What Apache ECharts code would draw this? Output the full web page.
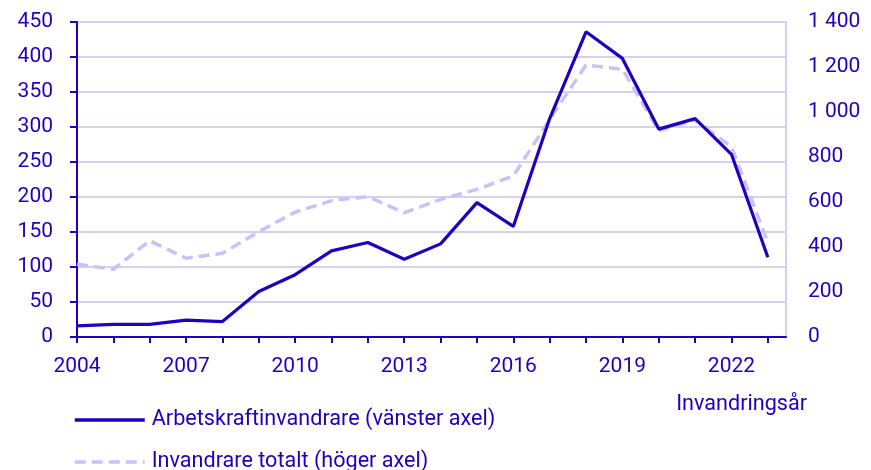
<!DOCTYPE html>
<html>
<head>
<meta charset="utf-8">
<script src="https://cdn.jsdelivr.net/npm/echarts@6/dist/echarts.min.js"></script>
<style>
  html, body { margin: 0; padding: 0; background: #fff; }
  #chart { width: 871px; height: 470px; }
</style>
</head>
<body>
<div id="chart"></div>
<script>
const years = [2004, 2005, 2006, 2007, 2008, 2009, 2010, 2011, 2012, 2013,
  2014, 2015, 2016, 2017, 2018, 2019, 2020, 2021, 2022, 2023];
const labelYears = [2004, 2007, 2010, 2013, 2016, 2019, 2022];
// vänster axel
const arbetskraft = [16, 18, 18, 24, 22, 65, 89, 123, 135, 111,
  133, 192, 158, 312, 436, 398, 297, 312, 261, 114];
// höger axel
const totalt = [323, 301, 428, 350, 372, 468, 555, 606, 624, 552,
  612, 656, 716, 967, 1209, 1190, 917, 964, 846, 420];

const DARK = "#1e00be";
const LIGHT = "#c9c2fa";
const GRID = "#d3d1ef";
const FONT = "Roboto";
const FS = 21;
const FS_TEXT = 21.6;

const chart = echarts.init(document.getElementById("chart"));

function fmtSpace(v) {
  return String(v).replace(/\B(?=(\d{3})+(?!\d))/g, " ");
}

chart.setOption({
  animation: false,
  textStyle: { fontFamily: FONT, color: DARK },
  grid: { left: 77, right: 85, top: 22, bottom: 133 },
  title: {
    text: "Invandringsår",
    right: 64,
    top: 394,
    padding: 0,
    textStyle: { fontFamily: FONT, fontSize: FS_TEXT, fontWeight: "normal", color: DARK },
  },
  legend: {
    orient: "vertical",
    left: 73,
    top: 409,
    height: 100,
    padding: 0,
    itemWidth: 70,
    itemHeight: 21,
    itemGap: 20,
    itemStyle: { opacity: 0 },
    lineStyle: { width: 3.5 },
    textStyle: { fontFamily: FONT, fontSize: FS_TEXT, color: DARK, padding: [0, 0, 0, 2] },
    data: ["Arbetskraftinvandrare (vänster axel)", "Invandrare totalt (höger axel)"],
  },
  xAxis: {
    type: "value",
    min: 2004,
    max: 2023.5,
    interval: 1,
    splitLine: { show: false },
    axisLine: { lineStyle: { color: DARK, width: 2 } },
    axisTick: { show: true, length: 6, lineStyle: { color: DARK, width: 2 }, customValues: years },
    axisLabel: {
      customValues: labelYears,
      margin: 19,
      fontSize: FS,
      color: DARK,
      formatter: (v) => String(v),
    },
  },
  yAxis: [
    {
      type: "value",
      min: 0,
      max: 450,
      interval: 50,
      position: "left",
      axisLine: { show: true, lineStyle: { color: DARK, width: 2 } },
      axisTick: { show: true, length: 7, lineStyle: { color: DARK, width: 2 } },
      axisLabel: { margin: 24, fontSize: FS, color: DARK },
      splitLine: { show: true, lineStyle: { color: GRID, width: 2 } },
    },
    {
      type: "value",
      min: 0,
      max: 1400,
      interval: 200,
      position: "right",
      axisLine: { show: true, lineStyle: { color: GRID, width: 2 } },
      axisTick: { show: false },
      axisLabel: { margin: 22, fontSize: FS, color: DARK, formatter: fmtSpace },
      splitLine: { show: false },
    },
  ],
  series: [
    {
      name: "Invandrare totalt (höger axel)",
      type: "line",
      yAxisIndex: 1,
      symbol: "none",
      lineStyle: { color: LIGHT, width: 3.5, type: [11, 6] },
      itemStyle: { color: LIGHT },
      data: years.map((y, i) => [y, totalt[i]]),
      z: 2,
    },
    {
      name: "Arbetskraftinvandrare (vänster axel)",
      type: "line",
      yAxisIndex: 0,
      symbol: "none",
      lineStyle: { color: DARK, width: 3.2 },
      itemStyle: { color: DARK },
      data: years.map((y, i) => [y, arbetskraft[i]]),
      z: 3,
    },
  ],
});
</script>
</body>
</html>
